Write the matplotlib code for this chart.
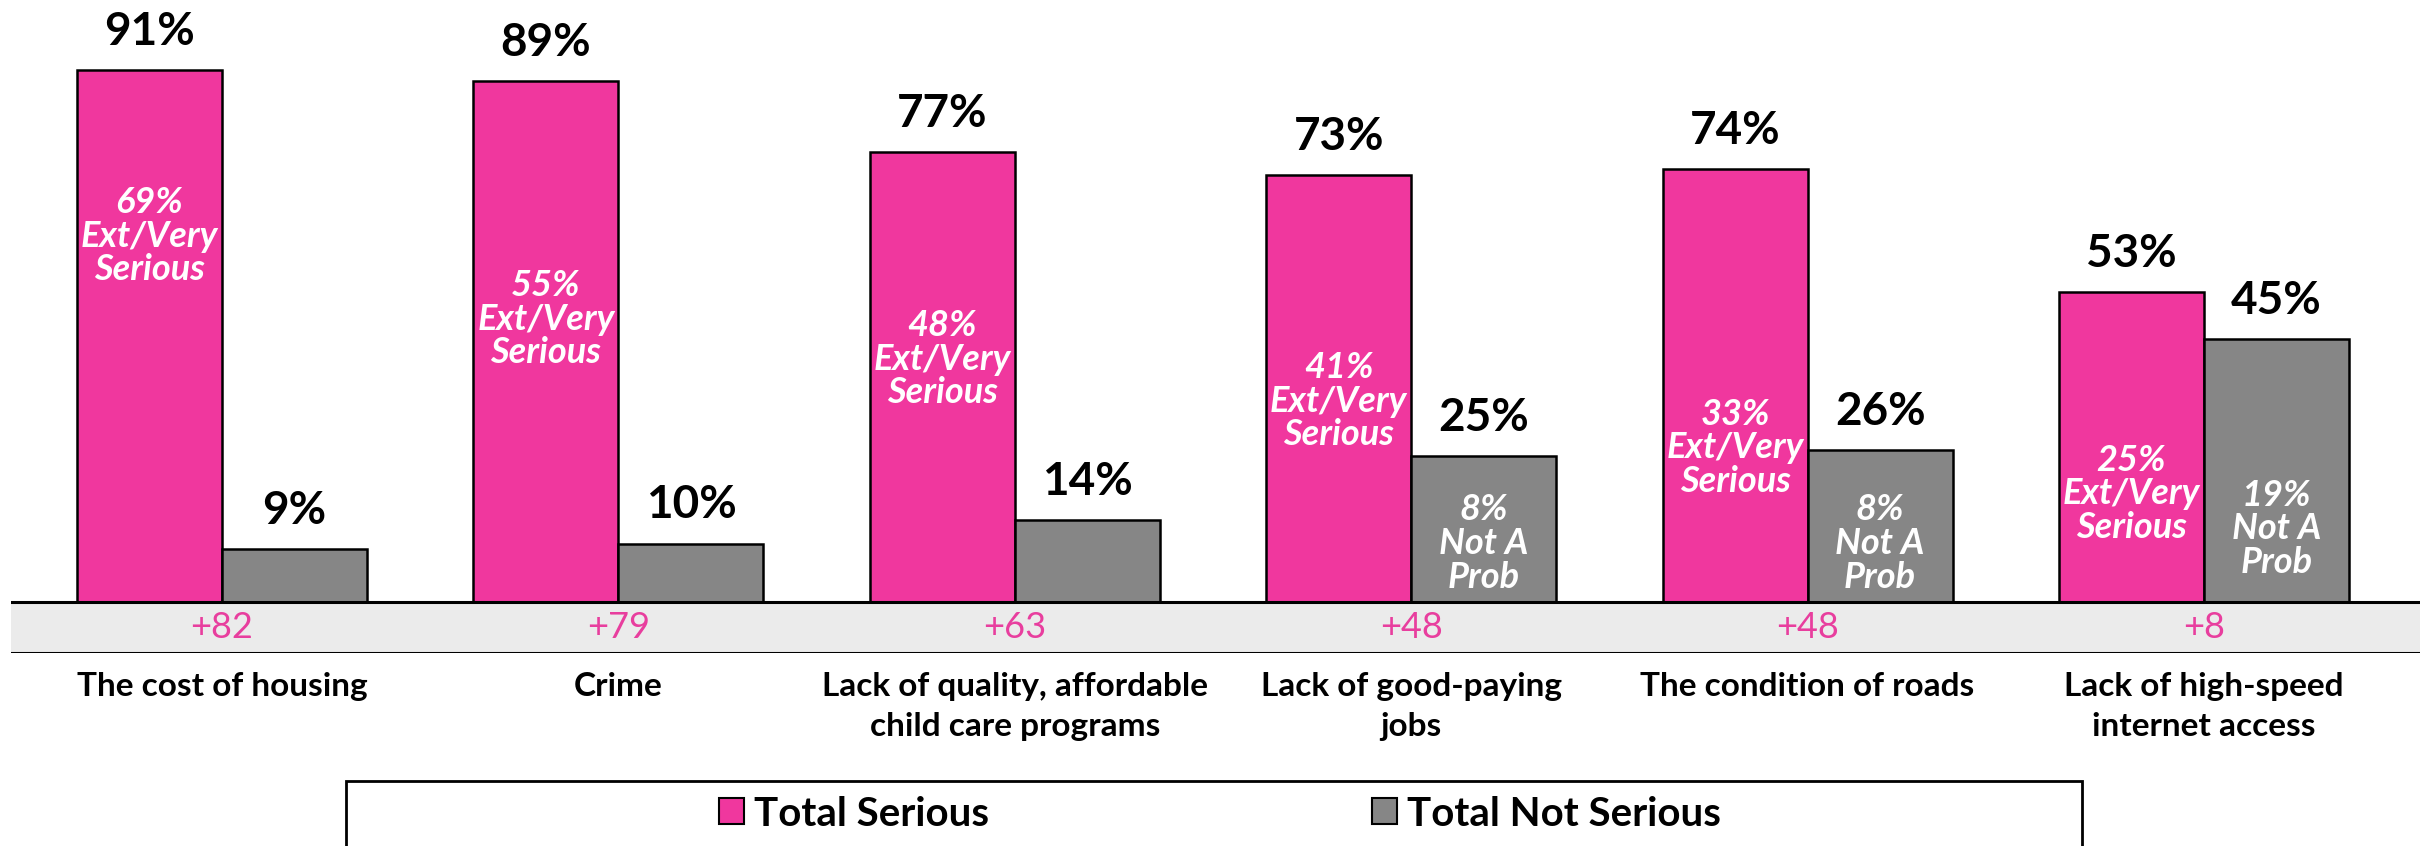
"""
Seriousness of local problems: total serious vs. total not serious, grouped bars
with the net difference in a grey band under the baseline.
"""

import matplotlib
matplotlib.use("Agg")
import matplotlib.pyplot as plt
from matplotlib.patches import Patch, Rectangle

plt.rcParams["font.family"] = ["Lato", "DejaVu Sans"]

categories = [
    "The cost of housing",
    "Crime",
    "Lack of quality, affordable\nchild care programs",
    "Lack of good-paying\njobs",
    "The condition of roads",
    "Lack of high-speed\ninternet access",
]
total_serious = [91, 89, 77, 73, 74, 53]
total_not_serious = [9, 10, 14, 25, 26, 45]
ext_very_serious = [69, 55, 48, 41, 33, 25]
not_a_prob = [None, None, None, 8, 8, 19]
net = ["+82", "+79", "+63", "+48", "+48", "+8"]

# where the inner labels sit (data units, centre of the text block)
ext_label_y = [62.5, 48.3, 41.5, 34.3, 26.4, 18.5]
prob_label_y = [None, None, None, 10.0, 10.0, 12.5]

PINK = "#F0379E"
GREY = "#868686"
NET_PINK = "#E83E9E"
BAND = "#EBEBEB"

W, H = 2420, 846
fig = plt.figure(figsize=(W / 100, H / 100), dpi=100)

# axes: baseline at y=602px, band bottom at 653px, top of figure at 0
px_per_unit = 5.85
band_depth = (653 - 602) / px_per_unit
ax = fig.add_axes([11 / W, (H - 653) / H, 1 - 11 / W, 653 / H])
ax.set_ylim(-band_depth, 602 / px_per_unit)

group_w = 396.4
ax.set_xlim((11 - 222) / group_w, (W - 222) / group_w)
bar_w = 145 / group_w

x = list(range(len(categories)))
x_pink = [i - bar_w / 2 for i in x]
x_grey = [i + bar_w / 2 for i in x]

ax.bar(x_pink, total_serious, width=bar_w, color=PINK, edgecolor="black",
       linewidth=1.8, zorder=3)
ax.bar(x_grey, total_not_serious, width=bar_w, color=GREY, edgecolor="black",
       linewidth=1.8, zorder=3)

# grey band with the net numbers
ax.axhspan(-band_depth, 0, color=BAND, zorder=1)
ax.axhline(0, color="black", linewidth=2.2, zorder=4)
ax.axhline(-band_depth, color="black", linewidth=2.2, zorder=4)
for i, n in zip(x, net):
    ax.text(i, -band_depth / 2, n, ha="center", va="center", fontsize=26,
            color=NET_PINK, zorder=5)

# value labels above bars
for xs, vals in ((x_pink, total_serious), (x_grey, total_not_serious)):
    for xi, v in zip(xs, vals):
        ax.annotate(f"{v}%", (xi, v), xytext=(0, 18), textcoords="offset points",
                    ha="center", va="baseline", fontsize=33, fontweight="bold",
                    color="black", zorder=5)

# inner labels
for xi, v, y in zip(x_pink, ext_very_serious, ext_label_y):
    ax.text(xi, y, f"{v}%\nExt/Very\nSerious", ha="center", va="center",
            fontsize=26, fontweight="bold", fontstyle="italic", color="white",
            linespacing=1.02, zorder=5)
for xi, v, y in zip(x_grey, not_a_prob, prob_label_y):
    if v is None:
        continue
    ax.text(xi, y, f"{v}%\nNot A\nProb", ha="center", va="center",
            fontsize=26, fontweight="bold", fontstyle="italic", color="white",
            linespacing=1.02, zorder=5)

ax.set_xticks(x)
ax.set_xticklabels(categories, fontsize=24, fontweight="bold", linespacing=1.45)
ax.tick_params(axis="x", length=0, pad=14)
ax.set_yticks([])
for s in ax.spines.values():
    s.set_visible(False)

# legend box, cut off by the bottom of the figure
fig.patches.append(Rectangle((346 / W, -0.2), (2082 - 346) / W, 0.2 + (H - 781) / H,
                             transform=fig.transFigure, facecolor="white",
                             edgecolor="black", linewidth=2, zorder=0))
handles = [Patch(facecolor=PINK, edgecolor="black", linewidth=1.5),
           Patch(facecolor=GREY, edgecolor="black", linewidth=1.5)]
fig.legend(handles, ["Total Serious", "Total Not Serious"], ncol=2,
           loc="center", bbox_to_anchor=(1220 / W, (H - 814) / H),
           frameon=False, prop={"weight": "bold", "size": 29},
           handlelength=0.62, handleheight=0.62, handletextpad=0.25,
           columnspacing=9.5)

fig.savefig("out.png", dpi=100)
